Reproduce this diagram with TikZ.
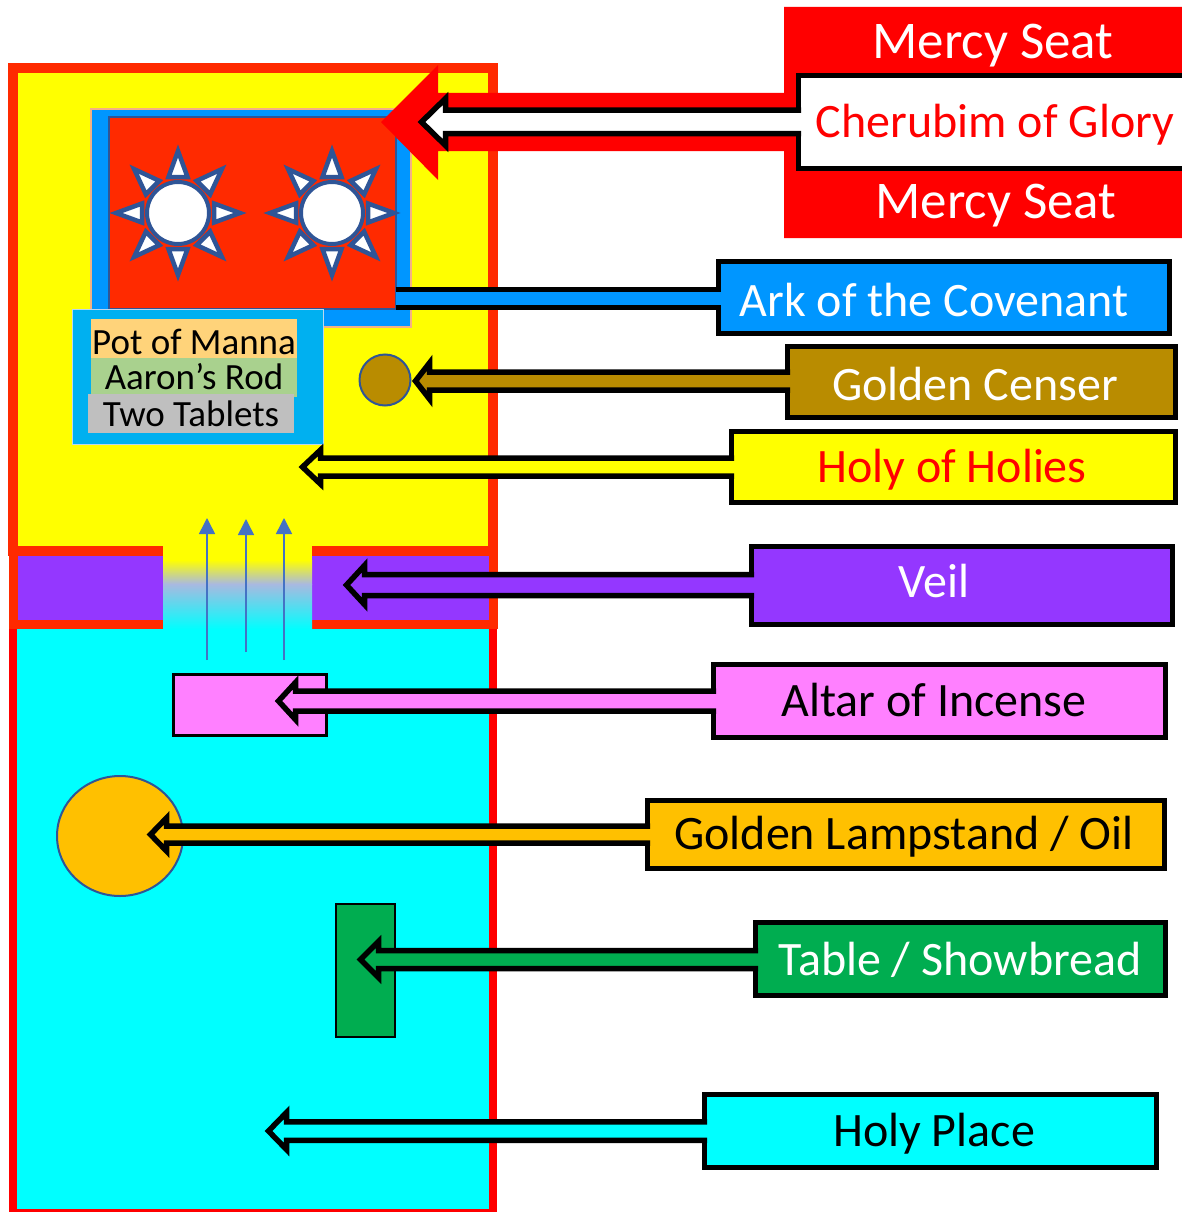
\documentclass[tikz,border=0pt]{standalone}
\usepackage{fontspec}
\setmainfont{Carlito}
\usetikzlibrary{arrows.meta,calc,shapes.geometric}
\definecolor{wallred}{HTML}{FF2A00}
\definecolor{mercyred}{HTML}{FF0000}
\definecolor{holiesyellow}{HTML}{FFFF00}
\definecolor{placecyan}{HTML}{00FFFF}
\definecolor{arkblue}{HTML}{0096FF}
\definecolor{arkedge}{HTML}{F4B183}
\definecolor{sunblue}{HTML}{2F5597}
\definecolor{smokeblue}{HTML}{4472C4}
\definecolor{smokemid}{HTML}{A9B9E0}
\definecolor{censergold}{HTML}{B98C00}
\definecolor{veilpurple}{HTML}{9437FF}
\definecolor{altarpink}{HTML}{FF80FF}
\definecolor{lampgold}{HTML}{FFC000}
\definecolor{tablegreen}{HTML}{00AD50}
\definecolor{itemblue}{HTML}{00B0F0}
\definecolor{itemedge}{HTML}{BDD7EE}
\definecolor{mannafill}{HTML}{FFD37A}
\definecolor{rodfill}{HTML}{A9D18E}
\definecolor{tabletfill}{HTML}{BFBFBF}
\tikzstyle{room}=[rectangle,outer sep=0pt,inner sep=0pt]
\tikzstyle{labelbox}=[rectangle,draw=black,line width=5.5pt,outer sep=0pt,inner sep=0pt]
\tikzstyle{labeltext}=[font=\fontsize{48}{48}\selectfont,text height=36pt,text depth=6pt,inner sep=0pt]
\tikzstyle{mercytext}=[font=\fontsize{53}{53}\selectfont,text height=40pt,text depth=6pt,inner sep=0pt,white]
\tikzstyle{itemtext}=[rectangle,font=\fontsize{37}{37}\selectfont,text height=27pt,text depth=2pt,inner sep=0pt,outer sep=0pt,minimum width=206pt,minimum height=39pt]
\tikzstyle{outlined}=[draw=sunblue,line width=2pt,inner sep=0pt,outer sep=0pt]
\tikzstyle{sun}=[circle,draw=sunblue,fill=white,line width=4pt,minimum size=62pt,inner sep=0pt]
\tikzstyle{ray}=[draw=sunblue,fill=white,line width=4.5pt,line join=miter]
\tikzstyle{smoke}=[draw=smokeblue,line width=1.5pt,-{Triangle[length=16pt,width=16pt]}]
\tikzstyle{shaft}=[draw=black,line width=5.5pt,line join=miter]
% box, tip, fill, half shaft, half head, head length
\newcommand{\blockarrow}[6]{
  \path (#2 -| #1.west) ++(2.5,-#4) coordinate (upper) ++(0,2*#4) coordinate (lower);
  \fill[#3] (#2) -- ++(#6,-#5) -- ++(0,#5-#4) -- (upper) -- (lower) -- ($(#2)+(#6,#4)$) -- ++(0,#5-#4) -- cycle;
  \draw[shaft] (upper) -- ($(#2)+(#6,-#4)$) -- ++(0,#4-#5) -- (#2) -- ++(#6,#5) -- ++(0,#4-#5) -- (lower);
}
\begin{document}
\begin{tikzpicture}[x=1pt,y=-1pt]
  \clip (0,0) rectangle (1182,1212);
  % rooms
  \node[room,draw=mercyred,fill=placecyan,line width=8pt,minimum width=480pt,minimum height=589pt] (holyplace) at (253,918.5) {};
  \node[room,draw=wallred,fill=holiesyellow,line width=10pt,minimum width=480pt,minimum height=483pt] (holyofholies) at (253,309.5) {};
  \node[room,draw=wallred,fill=veilpurple,line width=9pt,minimum width=480pt,minimum height=73pt] (veil) at (253,587.5) {};
  % opening in the veil
  \node[room,fill=holiesyellow,minimum width=149pt,minimum height=16pt] (gapyellow) at (237.5,552) {};
  \node[room,top color=holiesyellow,bottom color=smokemid,minimum width=149pt,minimum height=24pt] (gaptop) at (237.5,572) {};
  \node[room,top color=smokemid,bottom color=placecyan,minimum width=149pt,minimum height=45pt] (gapbottom) at (237.5,606.5) {};
  % smoke
  \coordinate (smokeA) at (207,660);
  \coordinate (smokeB) at (246,652);
  \coordinate (smokeC) at (284,660);
  \coordinate (smokeAend) at (207,518);
  \coordinate (smokeBend) at (246,519);
  \coordinate (smokeCend) at (284,518);
  \draw[smoke] (smokeA) -- (smokeAend);
  \draw[smoke] (smokeB) -- (smokeBend);
  \draw[smoke] (smokeC) -- (smokeCend);
  % ark
  \node[room,draw=arkedge,fill=arkblue,line width=2pt,minimum width=320pt,minimum height=218pt] (ark) at (251,218) {};
  \node[room,draw=sunblue,fill=wallred,line width=2pt,minimum width=287pt,minimum height=191pt] (seat) at (252,213) {};
  \foreach \cx/\sunname in {178/sunA,332/sunB} {
    \foreach \a in {0,45,...,315} {
      \draw[ray,shift={(\cx,213)},rotate=\a] (62,0) -- (36,9.5) -- (36,-9.5) -- cycle;
    }
    \node[sun] (\sunname) at (\cx,213) {};
  }
  % contents of the ark
  \node[room,draw=itemedge,fill=itemblue,line width=1pt,minimum width=251pt,minimum height=135pt] (contents) at (197.5,376.5) {};
  \node[itemtext,fill=mannafill,text height=34pt] (manna) at (194,338.5) {Pot of Manna};
  \node[itemtext,fill=rodfill,text height=25pt] (rod) at (194,377.5) {Aaron’s Rod};
  \node[itemtext,fill=tabletfill] (tablets) at (191,413.5) {Two Tablets};
  % furniture
  \node[circle,outlined,fill=censergold,minimum size=51pt] (censer) at (385,380) {};
  \node[rectangle,draw=black,fill=altarpink,line width=2.5pt,inner sep=0pt,outer sep=0pt,minimum width=153pt,minimum height=61pt] (altar) at (250,705) {};
  \node[ellipse,outlined,fill=lampgold,minimum width=126pt,minimum height=120pt] (lampstand) at (120,836) {};
  \node[rectangle,draw=black,fill=tablegreen,line width=2pt,inner sep=0pt,outer sep=0pt,minimum width=59pt,minimum height=133pt] (table) at (365.5,970.5) {};
  % mercy seat
  \fill[mercyred] (381,122) -- (438,65) -- (438,93) -- (784,93) -- (784,7) -- (1182,7) -- (1182,238) -- (784,238) -- (784,151) -- (438,151) -- (438,180) -- cycle;
  \node[labelbox,fill=white,minimum width=400pt,minimum height=93pt] (cherubimbox) at (998.5,122) {};
  \coordinate (cherubimtip) at (421.5,122);
  \blockarrow{cherubimbox}{cherubimtip}{white}{11.75}{23.5}{24}
  \node[mercytext] (mercytop) at (993,42) {Mercy Seat};
  \node[labeltext,mercyred] (cherubimlabel) at (995,122) {Cherubim of Glory};
  \node[mercytext] (mercybottom) at (996,201) {Mercy Seat};
  % labels
  \node[labelbox,fill=arkblue,minimum width=451pt,minimum height=72pt] (arkbox) at (944,297.5) {};
  \coordinate (arktop) at (seat.east |- 0,289.5);
  \coordinate (arkbottom) at (seat.east |- 0,307.5);
  \fill[arkblue] (arktop) rectangle ($(arkbox.west |- arkbottom)+(2.5,0)$);
  \draw[shaft] (arktop) -- ($(arktop -| arkbox.west)+(2.5,0)$);
  \draw[shaft] (arkbottom) -- ($(arkbottom -| arkbox.west)+(2.5,0)$);
  \node[labeltext,white] (arklabel) at (934,301) {Ark of the Covenant};

  \node[labelbox,fill=censergold,minimum width=388pt,minimum height=71pt] (censerbox) at (981.5,382) {};
  \coordinate (censertip) at (415.5,381);
  \blockarrow{censerbox}{censertip}{censergold}{9}{18}{14}
  \node[labeltext,white] (censerlabel) at (975,385) {Golden Censer};

  \node[labelbox,fill=holiesyellow,minimum width=444pt,minimum height=71pt] (holiesbox) at (953.5,467) {};
  \coordinate (holiestip) at (302.5,467);
  \blockarrow{holiesbox}{holiestip}{holiesyellow}{9}{17}{18}
  \node[labeltext,mercyred] (holieslabel) at (952,467) {Holy of Holies};

  \node[labelbox,fill=veilpurple,minimum width=421pt,minimum height=78pt] (veilbox) at (962,585.5) {};
  \coordinate (veiltip) at (346.5,585);
  \blockarrow{veilbox}{veiltip}{veilpurple}{10.5}{19.5}{18}
  \node[labeltext,white] (veillabel) at (934,582) {Veil};

  \node[labelbox,fill=altarpink,minimum width=452pt,minimum height=73pt] (altarbox) at (939.5,701) {};
  \coordinate (altartip) at (278.5,701);
  \blockarrow{altarbox}{altartip}{altarpink}{10}{18.5}{17}
  \node[labeltext] (altarlabel) at (934,701) {Altar of Incense};

  \node[labelbox,fill=lampgold,minimum width=517pt,minimum height=68pt] (lampbox) at (906,834.5) {};
  \coordinate (lamptip) at (150.5,834.5);
  \blockarrow{lampbox}{lamptip}{lampgold}{8.5}{16.5}{16}
  \node[labeltext] (lamplabel) at (904,834) {Golden Lampstand / Oil};

  \node[labelbox,fill=tablegreen,minimum width=410pt,minimum height=73pt] (tablebox) at (960.5,959) {};
  \coordinate (tabletip) at (360.5,959.5);
  \blockarrow{tablebox}{tabletip}{tablegreen}{9}{18}{18}
  \node[labeltext,white] (tablelabel) at (960,960) {Table / Showbread};

  \node[labelbox,fill=placecyan,minimum width=452pt,minimum height=73pt] (placebox) at (930.5,1131) {};
  \coordinate (placetip) at (268.5,1131);
  \blockarrow{placebox}{placetip}{placecyan}{9.25}{18.5}{18}
  \node[labeltext] (placelabel) at (934,1131) {Holy Place};
\end{tikzpicture}
\end{document}
